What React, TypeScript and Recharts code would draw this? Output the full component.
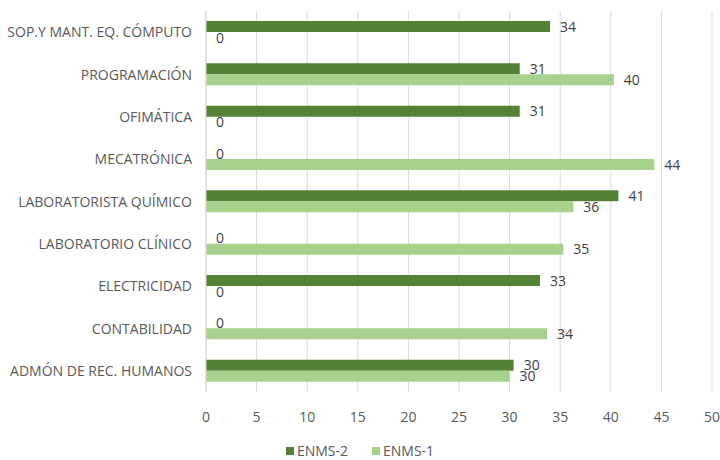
import React from 'react';
import { BarChart, Bar, XAxis, YAxis, CartesianGrid, Legend, LabelList } from 'recharts';

const categories = [
  'SOP.Y MANT. EQ. CÓMPUTO',
  'PROGRAMACIÓN',
  'OFIMÁTICA',
  'MECATRÓNICA',
  'LABORATORISTA QUÍMICO',
  'LABORATORIO CLÍNICO',
  'ELECTRICIDAD',
  'CONTABILIDAD',
  'ADMÓN DE REC. HUMANOS',
];
const enms2 = [34.0, 31.0, 31.0, 0, 40.75, 0, 33.0, 0, 30.4];
const enms1 = [0, 40.3, 0, 44.3, 36.3, 35.3, 0, 33.7, 30.0];
const xTicks = [0, 5, 10, 15, 20, 25, 30, 35, 40, 45, 50];
const seriesNames = ['ENMS-2', 'ENMS-1'];
const seriesColors = ['#548235', '#A9D18E'];

const data = categories.map((c, i) => ({ name: c, e2: enms2[i], e1: enms1[i] }));

const FONT = '"Open Sans", sans-serif';
const TEXT = '#595959';

const YTick = (props: any) => {
  const { x, y, payload } = props;
  return (
    <text x={x} y={y} dy={5} textAnchor="end" fill={TEXT} fontSize={14} fontFamily={FONT}>
      {payload.value}
    </text>
  );
};

const makeLabel = (dyShift: number) => (props: any) => {
  const { x, y, width, height, value } = props;
  return (
    <text
      x={Number(x) + Math.max(0, Number(width || 0)) + 10}
      y={Number(y) + Number(height) / 2 + dyShift}
      dy={5}
      textAnchor="start"
      fill="#404040"
      fontSize={14}
      fontFamily={FONT}
    >
      {Math.round(Number(value))}
    </text>
  );
};

const LegendContent = () => (
  <div style={{ display: 'flex', justifyContent: 'center', gap: 24, fontFamily: FONT, fontSize: 14, lineHeight: '14px', color: TEXT }}>
    {seriesNames.map((n, i) => (
      <span key={n} style={{ display: 'flex', alignItems: 'center' }}>
        <span style={{ width: 8, height: 8, background: seriesColors[i], display: 'inline-block', marginRight: 3 }} />
        {n}
      </span>
    ))}
  </div>
);

export default function App() {
  return (
    <div style={{ position: 'absolute', left: 0, top: 0, width: 720, height: 460, background: '#fff' }}>
      <BarChart
        width={720}
        height={460}
        data={data}
        layout="vertical"
        margin={{ top: 11, right: 8, bottom: 22, left: 6 }}
        barSize={11}
        barGap={0}
      >
        <CartesianGrid horizontal={false} stroke="#d9d9d9" />
        <XAxis
          type="number"
          domain={[0, 50]}
          ticks={xTicks}
          axisLine={false}
          tickLine={false}
          height={30}
          tick={{ fill: TEXT, fontSize: 14, fontFamily: FONT }}
          tickMargin={14}
          interval={0}
        />
        <YAxis
          type="category"
          dataKey="name"
          width={200}
          axisLine={{ stroke: '#d9d9d9' }}
          tickLine={false}
          tickSize={0}
          tickMargin={14}
          interval={0}
          tick={<YTick />}
        />
        <Legend
          verticalAlign="bottom"
          align="center"
          height={16}
          content={<LegendContent />}
          wrapperStyle={{ left: 0, width: 720, top: 444, height: 16 }}
        />
        <Bar dataKey="e2" name={seriesNames[0]} fill={seriesColors[0]} isAnimationActive={false} minPointSize={0.01}>
          <LabelList dataKey="e2" content={makeLabel(0)} />
        </Bar>
        <Bar dataKey="e1" name={seriesNames[1]} fill={seriesColors[1]} isAnimationActive={false} minPointSize={0.01}>
          <LabelList dataKey="e1" content={makeLabel(0)} />
        </Bar>
      </BarChart>
    </div>
  );
}
